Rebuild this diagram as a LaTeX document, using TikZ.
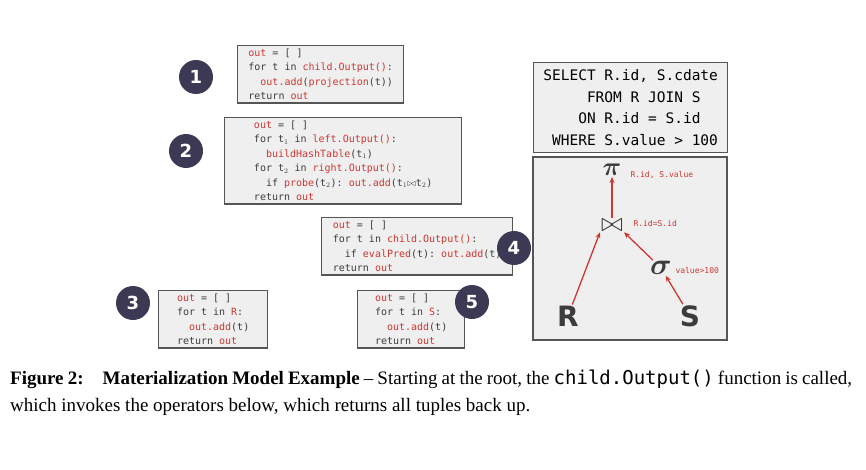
\documentclass[tikz,border=0pt]{standalone}
\usepackage{amsmath,amssymb,bm}
\usepackage{fontspec}
\setmainfont{Liberation Serif}
\setmonofont{DejaVu Sans Mono}
\setsansfont{DejaVu Sans}
\usetikzlibrary{positioning,arrows.meta}
\definecolor{kwred}{RGB}{205,55,50}
\definecolor{boxbg}{RGB}{239,239,239}
\definecolor{boxline}{RGB}{85,85,85}
\definecolor{dot}{RGB}{60,57,85}
\definecolor{txt}{RGB}{60,60,60}
\newcommand{\kw}[1]{\textcolor{kwred}{#1}}
\tikzset{
  code/.style={draw=boxline,line width=1.3pt,fill=boxbg,anchor=north west,align=left,
    inner sep=3pt,font=\ttfamily\fontsize{10}{14.5}\selectfont,text=txt},
  badge/.style={circle,fill=dot,text=white,minimum size=34pt,inner sep=0pt,
    font=\sffamily\bfseries\fontsize{18}{18}\selectfont},
  op/.style={text=txt,inner sep=1pt},
  lab/.style={text=kwred,font=\ttfamily\fontsize{8}{8}\selectfont,anchor=west},
  flow/.style={draw=kwred,line width=1.3pt,-{Stealth[length=6pt,width=5pt]}}
}
\begin{document}
\begin{tikzpicture}[x=1pt,y=-1pt]
  \useasboundingbox (0,0) rectangle (866,470);

  % code boxes
  \node[code,minimum width=166pt] (proj) at (237,45)
    {\kw{out} = [ ]\\for t in \kw{child.Output()}:\\\ \ \kw{out.add}(\kw{projection}(t))\\return \kw{out}};
  \node[code,minimum width=237pt] (join) at (224,117)
    {\kw{out} = [ ]\\for t$_1$ in \kw{left.Output()}:\\\ \ \kw{buildHashTable}(t$_1$)\\for t$_2$ in \kw{right.Output()}:\\\ \ if \kw{probe}(t$_2$): \kw{out.add}(t$_1$$\bowtie$t$_2$)\\return \kw{out}};
  \node[code,minimum width=191pt] (filt) at (321,217)
    {\kw{out} = [ ]\\for t in \kw{child.Output()}:\\\ \ if \kw{evalPred}(t): \kw{out.add}(t)\\return \kw{out}};
  \node[code,minimum width=109pt] (scanR) at (158,290)
    {\kw{out} = [ ]\\for t in \kw{R}:\\\ \ \kw{out.add}(t)\\return \kw{out}};
  \node[code,minimum width=107pt] (scanS) at (357,290)
    {\kw{out} = [ ]\\for t in \kw{S}:\\\ \ \kw{out.add}(t)\\return \kw{out}};

  % steps
  \node[badge] (s1) at (196,77) {1};
  \node[badge] (s2) at (186,151) {2};
  \node[badge] (s3) at (133,303) {3};
  \node[badge] (s4) at (514,248) {4};
  \node[badge] (s5) at (472,302) {5};

  % query
  \node[code,minimum width=194pt,minimum height=90pt,align=right,inner sep=5pt,
    font=\ttfamily\fontsize{14.5}{21.5}\selectfont,text=black] (sql) at (533,62)
    {SELECT R.id, S.cdate\\FROM R JOIN S\hphantom{te}\\ON R.id = S.id\hphantom{te}\\WHERE S.value > 100};
  \draw[draw=boxline,line width=1.3pt,fill=boxbg] (533,157) rectangle (727,340);

  % plan
  \node[op] (pi) at (612,170) {\scalebox{2.6}{$\bm{\pi}$}};
  \node[op] (bowtie) at (612,225) {\scalebox{2.6}{$\bowtie$}};
  \node[op] (sigma) at (661,268) {\scalebox{3}{$\bm{\sigma}$}};
  \node[op,font=\sffamily\bfseries\fontsize{28}{28}\selectfont] (R) at (568,316) {R};
  \node[op,font=\sffamily\bfseries\fontsize{28}{28}\selectfont] (S) at (690,316) {S};
  \node[lab] at (627,175) {R.id, S.value};
  \node[lab] at (630,224) {R.id=S.id};
  \node[lab] at (672,270) {value>100};
  \draw[flow] (bowtie) -- (pi);
  \draw[flow] (R) -- (bowtie.south west);
  \draw[flow] (sigma) -- (bowtie.south east);
  \draw[flow] (S) -- (sigma);

  % caption
  \node[anchor=north west,text width=842pt,align=justify,inner sep=0pt,
    font=\fontsize{19}{27}\selectfont] (cap) at (10,370)
    {\textbf{Figure 2:\quad Materialization Model Example} -- Starting at the root, the \texttt{child.Output()} function is called, which invokes the operators below, which re\-turns all tuples back up.};
\end{tikzpicture}
\end{document}
